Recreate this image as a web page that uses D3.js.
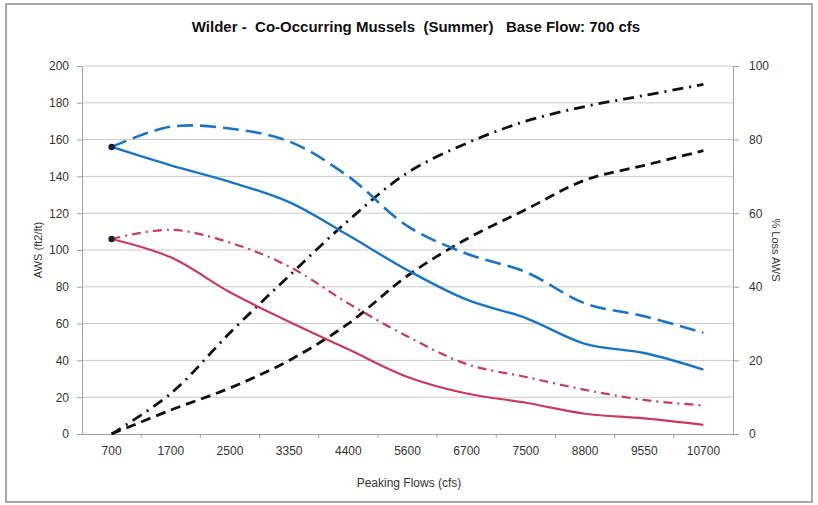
<!DOCTYPE html>
<html><head><meta charset="utf-8">
<script src="https://cdn.jsdelivr.net/npm/d3@7"></script>
<style>body{margin:0;background:#fff;}svg{display:block;font-family:"Liberation Sans",Arial,sans-serif;}</style>
</head><body><svg id="c" width="818" height="505"></svg>
<script>
const categories = ["700","1700","2500","3350","4400","5600","6700","7500","8800","9550","10700"];
const awsBaseline = [156,146,137,126,108,89,73,63,49,44,35];
const awsAlt = [156,167,166,159,140,113,98,88,71,64,55];
const redBaseline = [106,96,77,61,46,31,22,17,11,8.5,5];
const redAlt = [106,111,104,91,71,53,38,31,24,18.5,15.5];
const lossA = [0,11,27.5,43,58,71,79,85,89,92,95];
const lossB = [0,6.5,12.5,20,30,43,53,61,69,73,77];
const leftTicks = [0,20,40,60,80,100,120,140,160,180,200];
const rightTicks = [0,20,40,60,80,100];

const svg = d3.select("#c");
const L = 82, R = 733, T = 66, B = 434;
svg.append("rect").attr("x",6).attr("y",4).attr("width",806).attr("height",498)
  .attr("fill","none").attr("stroke","#8c8c8c").attr("stroke-width",1.5);

const x = d3.scaleBand().domain(categories).range([L,R]);
const yL = d3.scaleLinear().domain([0,200]).range([B,T]);
const yR = d3.scaleLinear().domain([0,100]).range([B,T]);

svg.append("g").selectAll("line").data(leftTicks.filter(d=>d>0)).join("line")
  .attr("x1",L).attr("x2",R).attr("y1",d=>yL(d)).attr("y2",d=>yL(d))
  .attr("stroke","#c8c8c8").attr("stroke-width",1);

const axStyle = g => { g.selectAll("path,line").attr("stroke","#a0a0a0");
  g.selectAll("text").attr("fill","#333").style("font-size","12px"); };

svg.append("g").attr("transform",`translate(${L},0)`)
  .call(d3.axisLeft(yL).tickValues(leftTicks).tickSize(5).tickSizeOuter(0).tickPadding(8)).call(axStyle);
svg.append("g").attr("transform",`translate(${R},0)`)
  .call(d3.axisRight(yR).tickValues(rightTicks).tickSize(6).tickSizeOuter(0).tickPadding(10)).call(axStyle);
svg.append("g").attr("transform",`translate(0,${B})`)
  .call(d3.axisBottom(x).tickSize(0).tickPadding(12)).call(axStyle);
svg.append("g").selectAll("line").data(categories.slice(1)).join("line")
  .attr("x1",d=>x(d)).attr("x2",d=>x(d)).attr("y1",B).attr("y2",B+4).attr("stroke","#a0a0a0");

svg.append("text").attr("x",416).attr("y",32).attr("text-anchor","middle")
  .style("font-size","15px").style("font-weight","bold").style("white-space","pre")
  .attr("xml:space","preserve").attr("fill","#111")
  .text("Wilder -  Co-Occurring Mussels  (Summer)   Base Flow: 700 cfs");
svg.append("text").attr("transform","translate(42,250) rotate(-90)").attr("text-anchor","middle")
  .style("font-size","11px").attr("fill","#333").text("AWS (ft2/ft)");
svg.append("text").attr("transform","translate(772,250) rotate(90)").attr("text-anchor","middle")
  .style("font-size","11px").attr("fill","#333").text("% Loss AWS");
svg.append("text").attr("x",409).attr("y",487).attr("text-anchor","middle")
  .style("font-size","12px").attr("fill","#333").text("Peaking Flows (cfs)");

const cx = d => x(d) + x.bandwidth()/2;
const lineL = d3.line().x((d,i)=>cx(categories[i])).y(d=>yL(d)).curve(d3.curveCatmullRom.alpha(0.5));
const lineR = d3.line().x((d,i)=>cx(categories[i])).y(d=>yR(d)).curve(d3.curveCatmullRom.alpha(0.5));

const series = [
  {data:lossA, line:lineR, color:"#111", dash:"11,6,2,6", w:2.8},
  {data:lossB, line:lineR, color:"#111", dash:"10,6", w:2.8},
  {data:redAlt, line:lineL, color:"#c83a5e", dash:"9,5,2,5", w:2.2},
  {data:redBaseline, line:lineL, color:"#c83a5e", dash:null, w:2.2},
  {data:awsAlt, line:lineL, color:"#1a74c4", dash:"16,7", w:2.6},
  {data:awsBaseline, line:lineL, color:"#1a74c4", dash:null, w:2.4},
];
series.forEach(s=>{
  svg.append("path").attr("d",s.line(s.data)).attr("fill","none")
    .attr("stroke",s.color).attr("stroke-width",s.w)
    .attr("stroke-dasharray",s.dash);
});
svg.append("g").selectAll("circle").data([awsBaseline[0], redBaseline[0]]).join("circle")
  .attr("cx",cx(categories[0])).attr("cy",d=>yL(d)).attr("r",3.2).attr("fill","#1a2230");
</script></body></html>
